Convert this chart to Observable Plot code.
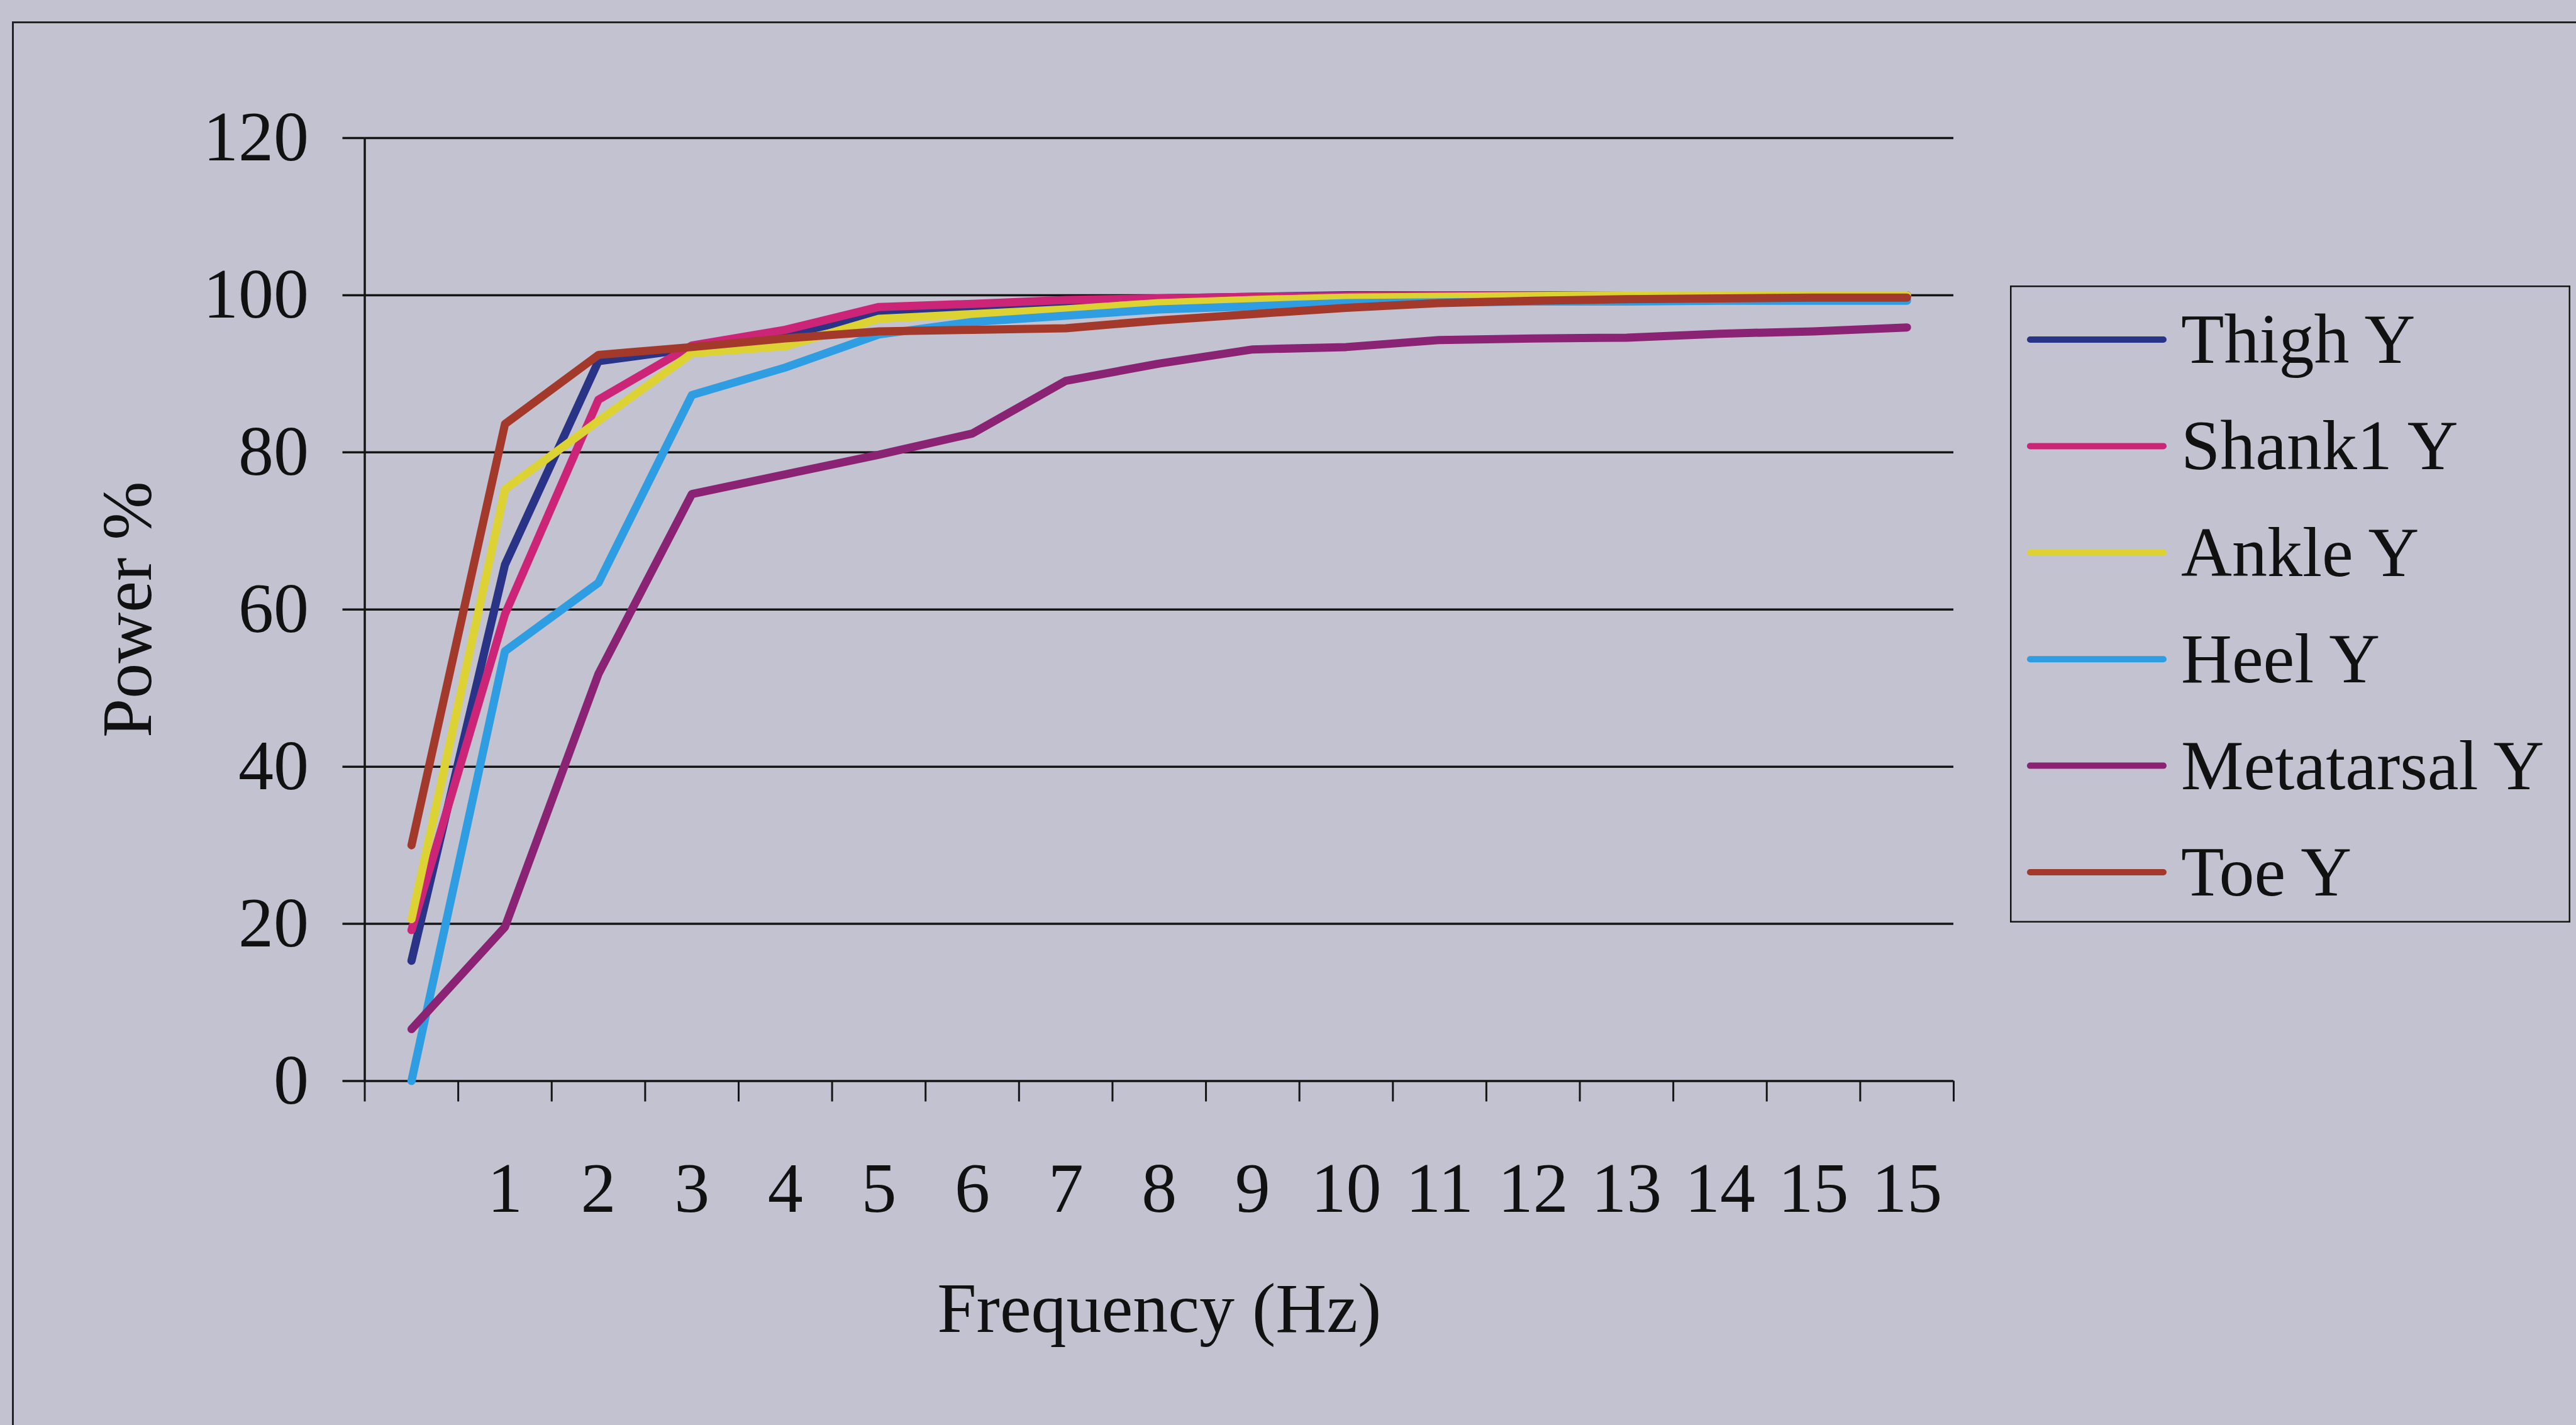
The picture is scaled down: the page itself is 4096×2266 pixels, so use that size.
<!DOCTYPE html>
<html>
<head>
<meta charset="utf-8">
<script src="https://cdn.jsdelivr.net/npm/d3@7"></script>
<script src="https://cdn.jsdelivr.net/npm/@observablehq/plot@0.6"></script>
<style>
  html, body { margin: 0; padding: 0; background: #c3c2d0; }
  #wrap { position: relative; width: 4096px; height: 2266px; overflow: hidden; background: #c3c2d0; font-family: "Liberation Serif", "Times New Roman", serif; color: #111; }
  #frame { position: absolute; left: 19px; top: 34px; width: 5000px; height: 3000px; border-left: 3px solid #222; border-top: 3px solid #222; }
  #chart { position: absolute; left: 0; top: 0; }
  #legend { position: absolute; left: 3196px; top: 454px; }
</style>
</head>
<body>
<div id="wrap">
  <div id="frame"></div>
  <div id="chart"></div>
  <div id="legend"></div>
</div>
<script>
// ---- data ----
const freqLabels = ["", "1", "2", "3", "4", "5", "6", "7", "8", "9", "10", "11", "12", "13", "14", "15", "15"];
const seriesNames = ["Thigh Y", "Shank1 Y", "Ankle Y", "Heel Y", "Metatarsal Y", "Toe Y"];
const seriesColors = ["#2a3486", "#cc2477", "#ddd234", "#2f9de2", "#8a2374", "#a2392b"];
const thighY      = [15.3, 65.7, 91.6, 93.2, 95.0, 97.6, 98.0, 99.2, 99.6, 99.8, 100, 100, 100, 100, 100, 100, 100];
const shank1Y     = [19.2, 59.4, 86.7, 93.6, 95.6, 98.5, 98.9, 99.4, 99.6, 99.8, 99.9, 100, 100, 100, 100, 100, 100];
const ankleY      = [20.6, 75.3, 84.0, 92.6, 93.5, 97.0, 97.6, 98.2, 99.0, 99.4, 99.7, 99.8, 99.9, 100, 100, 100, 100];
const heelY       = [0.0, 54.7, 63.4, 87.3, 90.8, 95.0, 96.6, 97.4, 98.2, 98.6, 99.0, 99.1, 99.2, 99.2, 99.3, 99.3, 99.3];
const metatarsalY = [6.6, 19.6, 51.8, 74.7, 77.2, 79.7, 82.4, 89.1, 91.3, 93.1, 93.4, 94.3, 94.5, 94.6, 95.1, 95.4, 95.9];
const toeY        = [30.0, 83.6, 92.4, 93.4, 94.5, 95.4, 95.6, 95.8, 96.8, 97.6, 98.4, 99.0, 99.3, 99.5, 99.6, 99.7, 99.7];
const yTicks = [0, 20, 40, 60, 80, 100, 120];

const seriesValues = [thighY, shank1Y, ankleY, heelY, metatarsalY, toeY];
const data = seriesNames.flatMap((name, s) => seriesValues[s].map((v, i) => ({series: name, i, v})));
const centers = freqLabels.map((_, i) => i);
const boundaries = d3.range(freqLabels.length + 1).map(k => k - 0.5);

const W = 4096, H = 2266;
const ink = "#151515";

const chart = Plot.plot({
  width: W,
  height: H,
  marginLeft: 579.5,
  marginRight: 990,
  marginTop: 219,
  marginBottom: 547.5,
  style: {background: "transparent", fontFamily: "'Liberation Serif', 'Times New Roman', serif", fontSize: "112px", color: "#111", overflow: "visible"},
  x: {type: "linear", domain: [-0.5, freqLabels.length - 0.5]},
  y: {domain: [0, 120]},
  color: {domain: seriesNames, range: seriesColors},
  marks: [
    Plot.ruleY(yTicks, {stroke: ink, strokeWidth: 3.5}),
    Plot.ruleX([-0.5], {y1: 0, y2: 120, stroke: ink, strokeWidth: 3.5}),
    Plot.axisY({ticks: yTicks, tickSize: 35, tickPadding: 54, tickFormat: d => String(d), stroke: ink, strokeWidth: 3.5, fill: "#111", label: null}),
    Plot.axisX({ticks: boundaries, tickSize: 33, tickFormat: () => "", stroke: ink, strokeWidth: 3, label: null}),
    Plot.axisX({ticks: centers, tickSize: 0, tickPadding: 128, tickFormat: i => freqLabels[i], fill: "#111", label: null}),
    Plot.line(data, {x: "i", y: "v", z: "series", stroke: "series", strokeWidth: 13, strokeLinejoin: "round", strokeLinecap: "round"}),
    Plot.text(["Power %"], {text: d => d, frameAnchor: "left", rotate: -90, textAnchor: "middle", lineAnchor: "middle", dx: -376, fill: "#111"}),
    Plot.text(["Frequency (Hz)"], {text: d => d, frameAnchor: "bottom", textAnchor: "middle", lineAnchor: "middle", dy: 363, fill: "#111"})
  ]
});
document.getElementById("chart").appendChild(chart);

// ---- legend ----
const lw = 891, lh = 1013;
const leg = d3.select("#legend").append("svg").attr("width", lw).attr("height", lh)
  .style("overflow", "visible");
leg.append("rect").attr("x", 1.25).attr("y", 1.25).attr("width", lw - 2.5).attr("height", lh - 2.5)
  .attr("fill", "none").attr("stroke", ink).attr("stroke-width", 2.5);
const rowY = d => 86 + d * 169.4;
const rows = leg.selectAll("g.row").data(seriesNames).join("g").attr("class", "row")
  .attr("transform", (d, i) => `translate(0,${rowY(i)})`);
rows.append("line").attr("x1", 32).attr("x2", 244).attr("y1", 0).attr("y2", 0)
  .attr("stroke", (d, i) => seriesColors[i]).attr("stroke-width", 10).attr("stroke-linecap", "round");
rows.append("text").attr("x", 272).attr("y", 37).text(d => d)
  .attr("font-family", "'Liberation Serif', 'Times New Roman', serif").attr("font-size", 112).attr("fill", "#111");
</script>
</body>
</html>
